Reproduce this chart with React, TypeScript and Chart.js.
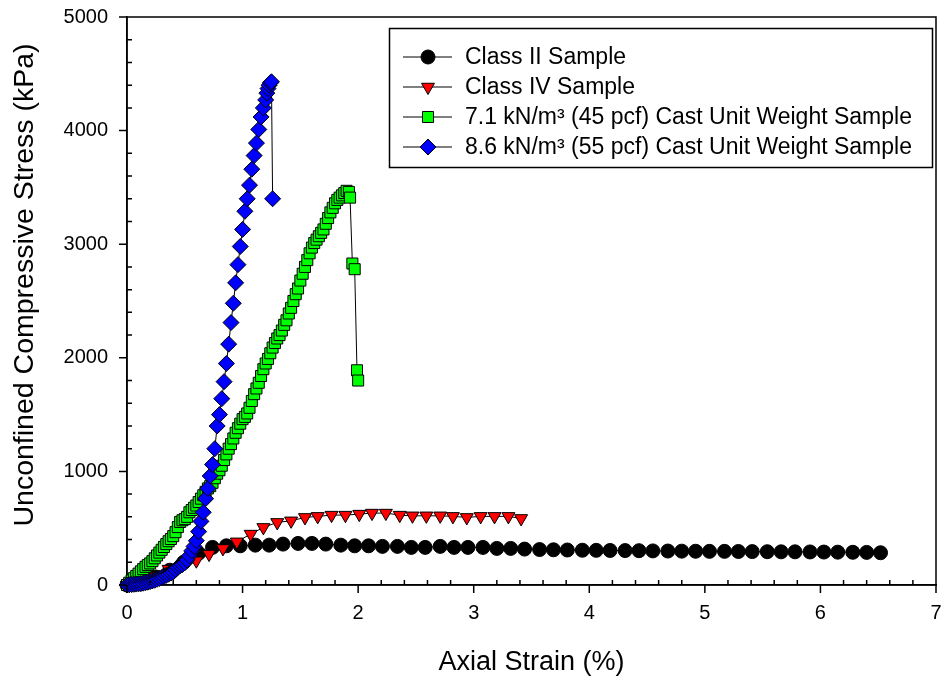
import React, { useEffect, useRef } from "react";
import { Chart, registerables } from "chart.js";

Chart.register(...registerables);

const FONT = "'Liberation Sans', Arial, Helvetica, sans-serif";

// Axis ticks
const xTicks = [0, 1, 2, 3, 4, 5, 6, 7];
const yTicks = [0, 1000, 2000, 3000, 4000, 5000];
const xMinorStep = 0.2;
const yMinorStep = 200;

// Class II sample (axial strain %, stress kPa)
const classIIStrain = [
  0, 0.12, 0.25, 0.37, 0.49, 0.62, 0.74, 0.86, 0.98, 1.11, 1.23, 1.35, 1.48, 1.6,
  1.72, 1.85, 1.97, 2.09, 2.21, 2.34, 2.46, 2.58, 2.71, 2.83, 2.95, 3.08, 3.2, 3.32,
  3.44, 3.57, 3.69, 3.81, 3.94, 4.06, 4.18, 4.31, 4.43, 4.55, 4.68, 4.8, 4.92, 5.04,
  5.17, 5.29, 5.41, 5.54, 5.66, 5.78, 5.91, 6.03, 6.15, 6.28, 6.4, 6.52,
];
const classIIStress = [
  0, 25, 70, 130, 200, 280, 331, 345, 345, 351, 351, 360, 366, 366,
  360, 351, 345, 345, 340, 340, 331, 331, 340, 331, 331, 331, 322, 322,
  316, 312, 310, 308, 306, 305, 304, 303, 302, 300, 299, 298, 297, 296,
  296, 295, 294, 293, 292, 292, 291, 290, 289, 288, 287, 284,
];

// Class IV sample
const classIVStrain = [
  0, 0.12, 0.24, 0.36, 0.48, 0.6, 0.71, 0.83, 0.95, 1.07, 1.18, 1.3, 1.42, 1.54,
  1.65, 1.77, 1.89, 2.01, 2.12, 2.24, 2.36, 2.47, 2.59, 2.71, 2.82, 2.94, 3.06,
  3.18, 3.3, 3.41,
];
const classIVStress = [
  0, 30, 80, 140, 180, 214, 272, 322, 380, 448, 507, 551, 565, 595,
  604, 615, 615, 624, 633, 633, 615, 609, 609, 609, 604, 595, 604,
  604, 604, 586,
];

// 7.1 kN/m3 (45 pcf) cast unit weight sample
const cast45Strain = [
  0, 0.02, 0.04, 0.06, 0.08, 0.1, 0.12, 0.14, 0.16, 0.18, 0.2, 0.22, 0.24, 0.26,
  0.28, 0.3, 0.32, 0.34, 0.36, 0.38, 0.4, 0.42, 0.44, 0.46, 0.48, 0.5, 0.52, 0.54,
  0.56, 0.58, 0.6, 0.62, 0.64, 0.66, 0.68, 0.7, 0.72, 0.74, 0.76, 0.78, 0.8, 0.82,
  0.84, 0.86, 0.88, 0.9, 0.92, 0.94, 0.96, 0.98, 1.0, 1.02, 1.04, 1.06, 1.08, 1.1,
  1.12, 1.14, 1.16, 1.18, 1.2, 1.22, 1.24, 1.26, 1.28, 1.3, 1.32, 1.34, 1.36, 1.38,
  1.4, 1.42, 1.44, 1.46, 1.48, 1.5, 1.52, 1.54, 1.56, 1.58, 1.6, 1.62, 1.64, 1.66,
  1.68, 1.7, 1.72, 1.74, 1.76, 1.78, 1.8, 1.82, 1.84, 1.86, 1.88, 1.9, 1.92, 1.93,
  1.95, 1.97, 1.99, 2.0,
];
const cast45Stress = [
  0, 20, 40, 60, 80, 100, 120, 140, 160, 175, 190, 210, 235, 260,
  285, 310, 335, 360, 385, 405, 430, 465, 510, 555, 570, 580, 600, 640,
  660, 680, 700, 730, 760, 790, 820, 850, 870, 900, 940, 980, 1010, 1050,
  1100, 1150, 1200, 1240, 1290, 1340, 1380, 1420, 1460, 1480, 1510, 1560, 1620, 1680,
  1730, 1780, 1840, 1900, 1950, 1990, 2040, 2090, 2130, 2170, 2200, 2240, 2290, 2330,
  2390, 2440, 2500, 2560, 2610, 2680, 2740, 2800, 2860, 2920, 2970, 3010, 3040, 3070,
  3100, 3130, 3180, 3230, 3280, 3320, 3360, 3390, 3410, 3430, 3450, 3470, 3460, 3410,
  2830, 2780, 1890, 1800,
];

// 8.6 kN/m3 (55 pcf) cast unit weight sample
const cast55Strain = [
  0, 0.02, 0.04, 0.06, 0.08, 0.1, 0.12, 0.14, 0.16, 0.18, 0.2, 0.22, 0.24, 0.26,
  0.28, 0.3, 0.32, 0.34, 0.36, 0.38, 0.4, 0.42, 0.44, 0.46, 0.48, 0.5, 0.52, 0.54,
  0.56, 0.58, 0.6, 0.62, 0.64, 0.66, 0.68, 0.7, 0.72, 0.74, 0.76, 0.78, 0.8, 0.82,
  0.84, 0.86, 0.88, 0.9, 0.92, 0.94, 0.96, 0.98, 1.0, 1.02, 1.04, 1.06, 1.08, 1.1,
  1.12, 1.14, 1.16, 1.18, 1.2, 1.21, 1.22, 1.23, 1.24, 1.25, 1.26,
];
const cast55Stress = [
  0, 2, 4, 6, 8, 10, 12, 16, 20, 25, 30, 36, 42, 50,
  58, 66, 75, 85, 95, 105, 115, 135, 155, 170, 180, 195, 220, 257,
  300, 340, 390, 470, 560, 640, 760, 850, 960, 1060, 1200, 1400, 1500, 1640,
  1790, 1950, 2120, 2310, 2480, 2660, 2820, 2980, 3130, 3290, 3400, 3520, 3660, 3780,
  3890, 4010, 4120, 4200, 4270, 4330, 4370, 4400, 4420, 4430, 3400,
];

const seriesLabels = [
  "Class II Sample",
  "Class IV Sample",
  "7.1 kN/m\u00B3 (45 pcf) Cast Unit Weight Sample",
  "8.6 kN/m\u00B3 (55 pcf) Cast Unit Weight Sample",
];

const xTitle = "Axial Strain (%)";
const yTitle = "Unconfined Compressive Stress (kPa)";

type Marker = {
  style: "circle" | "triangle" | "rect" | "rectRot";
  radius: number;
  rotation: number;
  fill: string;
};

const markers: Marker[] = [
  { style: "circle", radius: 7, rotation: 0, fill: "#000000" },
  { style: "triangle", radius: 7.5, rotation: 180, fill: "#ff0000" },
  { style: "rect", radius: 7.8, rotation: 0, fill: "#00ff00" },
  { style: "rectRot", radius: 8, rotation: 0, fill: "#0000ff" },
];

function drawMarker(ctx: CanvasRenderingContext2D, m: Marker, x: number, y: number) {
  ctx.save();
  ctx.beginPath();
  const r = m.radius;
  if (m.style === "circle") {
    ctx.arc(x, y, r, 0, Math.PI * 2);
  } else if (m.style === "triangle") {
    let rad = (m.rotation * Math.PI) / 180;
    ctx.moveTo(x + Math.sin(rad) * r, y - Math.cos(rad) * r);
    rad += (2 * Math.PI) / 3;
    ctx.lineTo(x + Math.sin(rad) * r, y - Math.cos(rad) * r);
    rad += (2 * Math.PI) / 3;
    ctx.lineTo(x + Math.sin(rad) * r, y - Math.cos(rad) * r);
    ctx.closePath();
  } else if (m.style === "rect") {
    const s = Math.SQRT1_2 * r;
    ctx.rect(x - s, y - s, 2 * s, 2 * s);
  } else {
    ctx.moveTo(x - r, y);
    ctx.lineTo(x, y - r);
    ctx.lineTo(x + r, y);
    ctx.lineTo(x, y + r);
    ctx.closePath();
  }
  ctx.fillStyle = m.fill;
  ctx.fill();
  ctx.lineWidth = 1;
  ctx.strokeStyle = "#000000";
  ctx.stroke();
  ctx.restore();
}

// Inward minor and outward major tick marks on the left and bottom axes
function drawTickMarks(chart: any) {
  const ctx: CanvasRenderingContext2D = chart.ctx;
  const a = chart.chartArea;
  const xs = chart.scales.x;
  const ys = chart.scales.y;
  ctx.save();
  ctx.strokeStyle = "#000000";
  ctx.lineWidth = 1.5;
  ctx.beginPath();
  for (const v of xTicks) {
    const px = xs.getPixelForValue(v);
    ctx.moveTo(px, a.bottom);
    ctx.lineTo(px, a.bottom + 8);
  }
  for (const v of yTicks) {
    const py = ys.getPixelForValue(v);
    ctx.moveTo(a.left, py);
    ctx.lineTo(a.left - 8, py);
  }
  for (let i = 1; i * xMinorStep < xs.max - 1e-9; i++) {
    const v = i * xMinorStep;
    if (Math.abs(v - Math.round(v)) < 1e-6) continue;
    const px = xs.getPixelForValue(v);
    ctx.moveTo(px, a.bottom);
    ctx.lineTo(px, a.bottom - 5);
  }
  for (let i = 1; i * yMinorStep < ys.max - 1e-9; i++) {
    const v = i * yMinorStep;
    if (v % 1000 === 0) continue;
    const py = ys.getPixelForValue(v);
    ctx.moveTo(a.left, py);
    ctx.lineTo(a.left + 5, py);
  }
  ctx.stroke();
  ctx.restore();
}

// Tick marks, axis titles and boxed legend
const decorations = {
  id: "decorations",
  afterDraw(chart: any) {
    drawTickMarks(chart);
    const ctx: CanvasRenderingContext2D = chart.ctx;
    const a = chart.chartArea;
    ctx.save();
    ctx.fillStyle = "#000000";
    ctx.textAlign = "center";
    ctx.textBaseline = "middle";
    ctx.font = `27px ${FONT}`;
    ctx.fillText(xTitle, (a.left + a.right) / 2, 663);
    ctx.save();
    ctx.translate(25, 285);
    ctx.rotate(-Math.PI / 2);
    ctx.font = `28.5px ${FONT}`;
    ctx.fillText(yTitle, 0, 0);
    ctx.restore();

    // legend
    const boxL = 389.5, boxT = 28.5, boxW = 543, boxH = 139;
    ctx.fillStyle = "#ffffff";
    ctx.fillRect(boxL, boxT, boxW, boxH);
    ctx.strokeStyle = "#000000";
    ctx.lineWidth = 1.5;
    ctx.strokeRect(boxL, boxT, boxW, boxH);
    const rowY = [57, 87, 117, 147];
    ctx.font = `23px ${FONT}`;
    ctx.textAlign = "left";
    ctx.textBaseline = "middle";
    seriesLabels.forEach((label, i) => {
      const y = rowY[i];
      ctx.beginPath();
      ctx.lineWidth = 1;
      ctx.strokeStyle = "#000000";
      ctx.moveTo(403, y);
      ctx.lineTo(452, y);
      ctx.stroke();
      drawMarker(ctx, markers[i], 428, y);
      ctx.fillStyle = "#000000";
      ctx.fillText(label, 465, y + 1);
    });
    ctx.restore();
  },
};

function series(strain: number[], stress: number[]) {
  return strain.map((x, i) => ({ x, y: stress[i] }));
}

function pinScale(size: number, horizontal: boolean) {
  return (s: any) => {
    if (horizontal) s.height = size;
    else s.width = size;
    s.paddingTop = 0;
    s.paddingBottom = 0;
    s.paddingLeft = 0;
    s.paddingRight = 0;
  };
}

// Closed plot box traced along the axis limits
const xMin = xTicks[0];
const xMax = xTicks[xTicks.length - 1];
const yMin = yTicks[0];
const yMax = yTicks[yTicks.length - 1];
const boxPath = [
  { x: xMin, y: yMin },
  { x: xMin, y: yMax },
  { x: xMax, y: yMax },
  { x: xMax, y: yMin },
  { x: xMin, y: yMin },
];

const frameBorder = { display: true, color: "#000000", width: 1.5 };

export default function App() {
  const canvasRef = useRef<HTMLCanvasElement>(null);

  useEffect(() => {
    document.body.style.margin = "0";
    const canvas = canvasRef.current;
    if (!canvas) return;
    const makeDataset = (i: number, data: { x: number; y: number }[], order: number) => ({
      label: seriesLabels[i],
      data,
      showLine: true,
      borderColor: "#000000",
      borderWidth: 1,
      tension: 0,
      pointStyle: markers[i].style,
      pointRadius: markers[i].radius,
      pointRotation: markers[i].rotation,
      pointBackgroundColor: markers[i].fill,
      pointBorderColor: "#000000",
      pointBorderWidth: 1,
      pointHoverRadius: markers[i].radius,
      clip: false as any,
      order,
    });

    const chart = new Chart(canvas, {
      type: "scatter",
      data: {
        datasets: [
          makeDataset(0, series(classIIStrain, classIIStress), 4),
          makeDataset(1, series(classIVStrain, classIVStress), 3),
          makeDataset(2, series(cast45Strain, cast45Stress), 2),
          makeDataset(3, series(cast55Strain, cast55Stress), 1),
          {
            label: "frame",
            data: boxPath,
            showLine: true,
            borderColor: "#000000",
            borderWidth: 1.5,
            pointRadius: 0,
            pointHoverRadius: 0,
            tension: 0,
            clip: false as any,
            order: 9,
          },
        ],
      },
      options: {
        animation: false,
        responsive: false,
        devicePixelRatio: 1,
        layout: { padding: { left: 0, right: 6, top: 17, bottom: 0 } },
        plugins: {
          legend: { display: false },
          tooltip: { enabled: false },
        },
        events: [],
        scales: {
          x: {
            type: "linear",
            position: "bottom",
            min: xMin,
            max: xMax,
            grid: { display: false, drawTicks: false },
            border: frameBorder,
            ticks: {
              color: "#000000",
              font: { family: FONT, size: 20 },
              padding: 16,
              callback: (v: any) => String(v),
            },
            afterBuildTicks: (s: any) => {
              s.ticks = xTicks.map((v) => ({ value: v }));
            },
            afterFit: pinScale(99, true),
          },
          y: {
            type: "linear",
            position: "left",
            min: yMin,
            max: yMax,
            grid: { display: false, drawTicks: false },
            border: frameBorder,
            ticks: {
              color: "#000000",
              font: { family: FONT, size: 20 },
              padding: 19,
              callback: (v: any) => String(v),
            },
            afterBuildTicks: (s: any) => {
              s.ticks = yTicks.map((v) => ({ value: v }));
            },
            afterFit: pinScale(127, false),
          },
        },
      },
      plugins: [decorations],
    });
    return () => chart.destroy();
  }, []);

  return (
    <div style={{ width: 945, height: 684, background: "#ffffff" }}>
      <canvas ref={canvasRef} width={945} height={684} style={{ display: "block", width: 945, height: 684 }} />
    </div>
  );
}
